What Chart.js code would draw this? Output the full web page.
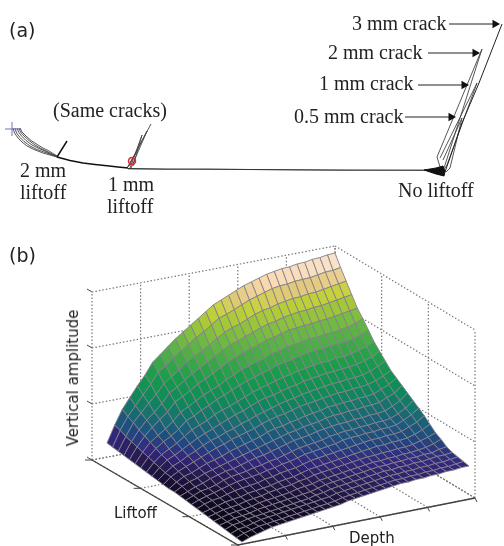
<!DOCTYPE html>
<html>
<head>
<meta charset="utf-8">
<title>Crack signals and liftoff</title>
<script src="https://cdn.jsdelivr.net/npm/chart.js@4"></script>
<style>
    html, body { margin: 0; padding: 0; background: #fff; }
    #page { position: relative; width: 504px; height: 546px; overflow: hidden; filter: blur(0.4px); }
    canvas { position: absolute; left: 0; }
    #chart-a { top: 0; }
    #chart-b { top: 240px; }
    .note { position: absolute; font-family: "Liberation Serif", serif; font-size: 20px; line-height: 22px; color: #222; white-space: nowrap; }
    .panel { position: absolute; font-family: "DejaVu Sans", sans-serif; font-size: 19px; line-height: 22px; color: #222; }
    .axis-name { position: absolute; font-family: "DejaVu Sans", sans-serif; font-size: 15px; line-height: 16px; color: #222; white-space: nowrap; }
</style>
</head>
<body>
<div id="page">
    <canvas id="chart-a" width="504" height="240"></canvas>
    <canvas id="chart-b" width="504" height="306"></canvas>
    <div class="panel" style="left:9px;top:19px">(a)</div>
    <div class="panel" style="left:9px;top:244px">(b)</div>
    <div class="note" style="left:53px;top:99px">(Same cracks)</div>
    <div class="note" style="left:20px;top:159px">2 mm</div>
    <div class="note" style="left:20px;top:181px">liftoff</div>
    <div class="note" style="left:108px;top:173px">1 mm</div>
    <div class="note" style="left:107px;top:195px">liftoff</div>
    <div class="note" style="left:398px;top:179px">No liftoff</div>
    <div class="note" style="left:352px;top:12px">3 mm crack</div>
    <div class="note" style="left:328px;top:41px">2 mm crack</div>
    <div class="note" style="left:319px;top:72px">1 mm crack</div>
    <div class="note" style="left:294px;top:105px">0.5 mm crack</div>
    <div class="axis-name" style="left:73px;top:378px;transform:translate(-50%,-50%) rotate(-90deg)">Vertical amplitude</div>
    <div class="axis-name" style="left:114px;top:505px">Liftoff</div>
    <div class="axis-name" style="left:349px;top:530px">Depth</div>
</div>

<script>
// Panel (a): impedance plane traces
const fanTraces = [
    [[13, 112], [14.5, 107], [18, 102], [22, 98], [27, 94], [34, 90.5], [43, 87], [50, 85], [57, 83]],
    [[15, 112], [16.5, 107], [20, 102.5], [24, 98.5], [30, 94], [37, 90.5], [44, 88], [51, 85.5], [57, 83]],
    [[17, 112], [18.5, 108], [22, 103.5], [26, 99.5], [32, 95], [38, 92], [45, 89], [51, 86], [57, 83.5]],
    [[19, 112], [20.5, 108], [24, 104], [29, 99.5], [35, 95], [41, 91.5], [47, 88.5], [52, 86], [57, 84]],
    [[20, 112], [22, 108], [26, 104], [31, 99.5], [38, 95], [43, 92], [49, 89], [53, 86.5], [57, 84]]
];
const liftoffCurve = [[57, 83], [70, 79.5], [83, 77], [95, 75.5], [107, 74.2], [118, 73], [128, 72]];
const baselineDark = [[128, 71.5], [167, 71], [250, 70.5], [352, 70], [425, 69.7], [440, 68]];
const baselineGrey = [[128, 71], [165, 70.5], [207, 71], [290, 70], [340, 69.5], [430, 70]];
const spur2mm = [[57, 83], [67, 99]];
const spur1mm = [
    [[128, 73], [151, 116]],
    [[129, 74], [147, 109], [131, 72]],
    [[130, 72], [142, 105], [133, 74]],
    [[127, 72], [137, 89]]
];
const crack3mm = [[445, 68], [462, 117], [479, 157], [502, 216]];
const crack2mm = [[441, 70], [437, 83], [482, 191], [445, 75], [442, 68]];
const crack1mm = [[440, 82], [477, 157], [447, 75], [443, 69]];
const crack05mm = [[443, 80], [462, 122], [450, 72], [446, 68]];
const noLiftoffBlob = [[424, 70], [436, 72], [443, 74], [445, 68], [444, 64], [436, 66], [424, 70]];
const samePoint = [[132, 79]];
const startPoint = [[12, 111]];
const arrows = [
    [[449, 216], [495, 216]],
    [[428, 187], [475, 187]],
    [[418, 155], [464, 155]],
    [[405, 123], [451, 123]]
];

// Panel (b): surface height for each liftoff row (front to back) and depth column (left to right)
const surfaceHeights = [
    [2,5,7,9,11,12,13,14,15,16,17,18,19,20,22,23,24,25,26,27,28,29,29,30,30,31,31,32,32,33,33],
    [3,6,8,10,11,12,13,14,15,16,17,18,19,20,22,23,24,25,26,27,28,29,29,30,30,31,31,32,32,33,34],
    [4,7,8,10,12,13,14,15,16,17,18,19,20,21,23,24,25,26,27,28,29,30,30,31,31,32,32,33,33,34,35],
    [5,8,9,11,12,13,14,15,16,17,18,19,21,22,24,25,26,27,28,29,30,31,31,32,32,33,33,34,35,35,36],
    [6,8,10,11,12,14,15,16,17,18,19,20,21,23,25,26,27,28,29,30,31,32,32,33,33,34,34,35,35,37,38],
    [7,9,11,12,13,14,16,17,18,19,20,22,23,24,26,27,28,29,30,31,32,33,33,34,34,35,35,36,37,39,42],
    [8,10,12,13,14,16,17,18,20,21,22,23,25,26,28,29,30,31,32,33,34,35,35,36,36,37,37,38,40,42,45],
    [9,11,13,15,16,17,19,20,21,22,24,25,26,28,30,31,32,33,34,35,36,37,38,39,39,40,40,41,43,46,50],
    [10,13,15,16,18,20,21,22,23,25,26,28,29,30,32,34,35,36,37,38,39,40,41,42,42,43,43,44,47,50,55],
    [11,14,16,18,20,22,24,25,26,27,29,30,32,33,35,37,38,39,40,41,43,44,44,45,45,46,46,47,50,54,59],
    [12,15,18,19,21,24,26,27,28,30,31,33,34,36,38,40,41,42,43,45,46,47,47,48,48,49,49,50,53,57,63],
    [13,16,19,21,24,26,28,29,31,33,35,36,38,40,42,44,45,46,48,49,50,51,51,52,52,53,53,54,57,61,67],
    [14,18,21,23,26,28,30,32,34,36,38,40,42,44,46,48,49,51,52,53,55,56,56,57,57,58,58,59,62,65,71],
    [14,19,23,25,28,31,33,35,38,40,42,44,46,49,51,52,54,55,57,58,59,61,61,62,62,63,63,64,67,70,75],
    [15,21,25,28,31,34,37,40,42,45,47,49,51,54,56,58,59,61,63,64,65,66,67,68,68,69,69,70,72,75,79],
    [16,22,27,30,34,37,41,44,46,49,51,54,56,59,61,63,65,67,68,70,71,72,73,74,74,75,75,76,78,81,85],
    [17,24,30,33,37,41,45,48,51,54,57,60,62,65,68,70,71,73,75,76,78,79,80,81,81,82,82,83,85,87,91],
    [18,26,32,36,40,45,50,53,56,60,63,65,68,71,74,76,78,80,82,83,85,86,87,88,88,89,89,90,92,94,97],
    [19,28,35,40,44,49,56,59,63,66,70,73,76,79,82,84,86,88,91,92,93,95,96,97,97,98,98,99,100,102,105],
    [20,30,38,43,48,54,61,65,69,73,76,79,83,86,90,92,94,96,99,100,102,103,104,105,105,106,106,107,108,110,113],
    [21,32,41,48,54,60,68,72,76,81,84,88,92,96,99,102,104,106,109,110,112,114,114,115,115,116,116,117,118,119,120],
    [22,34,44,52,58,65,74,78,83,88,92,96,100,104,108,110,113,115,118,120,121,123,124,125,125,126,126,127,128,129,130],
    [23,36,48,56,64,71,80,85,90,96,100,104,108,113,117,120,122,125,128,130,131,133,134,135,135,136,136,137,138,139,140],
    [24,39,51,60,69,78,88,93,99,104,109,114,118,123,128,130,133,136,139,141,143,145,146,146,147,147,147,148,149,149,150],
    [25,41,55,65,75,84,95,101,107,113,118,123,128,133,138,141,144,147,150,152,154,156,157,158,158,159,159,160,160,161,161]
];
const heightStops = [0, 15, 25, 33, 42, 50, 58, 68, 84, 96, 110, 125, 133, 141, 150, 161];
const heightColors = ['#050208', '#130b28', '#271b52', '#33287e', '#1f4c80', '#1b6078', '#16746c', '#0f8a58', '#179b4a', '#3fa848', '#6ab844', '#a8c938', '#c6d23a', '#e2c97c', '#fad9b0', '#f6ebe4'];
const depthTicks = [0, 0.2, 0.4, 0.6, 0.8, 1];
const liftoffTicks = [0, 1 / 3, 2 / 3, 1];
const amplitudeTicks = [0, 1 / 3, 2 / 3, 1];

// Corners of the viewing box and of the surface footprint on the picture plane
const boxFloor = { front: [238, 545], right: [475, 498], left: [92, 460], back: [335, 414] };
const boxHeight = 168;
const surfaceFloor = { front: [242, 544], right: [469, 499], left: [107, 468], back: [335, 414] };

function floorPoint(corners, d, l) {
    const mix = k => (1 - d) * (1 - l) * corners.front[k] + d * (1 - l) * corners.right[k]
        + (1 - d) * l * corners.left[k] + d * l * corners.back[k];
    return { x: mix(0), y: mix(1) };
}

function boxPoint(d, l, z) {
    const p = floorPoint(boxFloor, d, l);
    return { x: p.x, y: p.y - z * boxHeight };
}

function surfacePoint(col, row) {
    const cols = surfaceHeights[0].length - 1;
    const rows = surfaceHeights.length - 1;
    const p = floorPoint(surfaceFloor, col / cols, row / rows);
    return { x: p.x, y: p.y - surfaceHeights[row][col] };
}

function hexToRgb(hex) {
    return [1, 3, 5].map(i => parseInt(hex.substr(i, 2), 16));
}

// Colour lookup along the height colormap
function heightColor(h) {
    let k = 0;
    while (k < heightStops.length - 2 && h > heightStops[k + 1]) k++;
    const t = Math.min(1, Math.max(0, (h - heightStops[k]) / (heightStops[k + 1] - heightStops[k])));
    const a = hexToRgb(heightColors[k]);
    const b = hexToRgb(heightColors[k + 1]);
    const c = a.map((v, i) => Math.round(v + (b[i] - v) * t));
    return `rgb(${c[0]},${c[1]},${c[2]})`;
}

function toPoints(pairs) {
    return pairs.map(p => ({ x: p[0], y: p[1] }));
}

function traceLine(pairs, color, width) {
    return { data: toPoints(pairs), showLine: true, borderColor: color, borderWidth: width, pointRadius: 0, tension: 0 };
}

function hiddenAxes(xMin, xMax, yMin, yMax, reverseY) {
    return {
        x: { type: 'linear', display: false, min: xMin, max: xMax },
        y: { type: 'linear', display: false, min: yMin, max: yMax, reverse: reverseY }
    };
}

function baseOptions(scales) {
    return {
        responsive: false,
        animation: false,
        events: [],
        layout: { padding: 0, autoPadding: false },
        plugins: { legend: { display: false }, tooltip: { enabled: false } },
        scales: scales
    };
}

// Render panel (a)
function renderTraces() {
    const datasets = [];

    datasets.push({ data: toPoints(samePoint), pointStyle: 'circle', pointRadius: 3.5, pointBorderColor: '#d8283a', pointBackgroundColor: 'rgba(216,40,58,0.15)', pointBorderWidth: 1.5 });
    datasets.push({ data: toPoints(startPoint), pointStyle: 'cross', pointRadius: 7, pointBorderColor: '#6c70c0', pointBorderWidth: 1 });

    arrows.forEach(a => {
        datasets.push({
            data: toPoints(a), showLine: true, borderColor: '#222', borderWidth: 1,
            pointStyle: 'triangle', pointRadius: [0, 5], pointRotation: 90,
            pointBackgroundColor: '#111', pointBorderColor: '#111', pointBorderWidth: 0
        });
    });

    datasets.push({ ...traceLine(noLiftoffBlob, '#111', 1), fill: 'shape', backgroundColor: '#111' });
    fanTraces.forEach(t => datasets.push(traceLine(t, '#444', 0.9)));
    datasets.push(traceLine(liftoffCurve, '#111', 1.6));
    datasets.push(traceLine(baselineDark, '#333', 1));
    datasets.push(traceLine(baselineGrey, '#888', 1));
    datasets.push(traceLine(spur2mm, '#111', 1.5));
    spur1mm.forEach(t => datasets.push(traceLine(t, '#444', 0.9)));
    datasets.push(traceLine(crack3mm, '#222', 1));
    datasets.push(traceLine(crack2mm, '#444', 0.9));
    datasets.push(traceLine(crack1mm, '#444', 0.9));
    datasets.push(traceLine(crack05mm, '#444', 0.9));

    new Chart(document.getElementById('chart-a').getContext('2d'), {
        type: 'scatter',
        data: { datasets: datasets },
        options: baseOptions(hiddenAxes(0, 504, 0, 240, false))
    });
}

// Render panel (b)
function renderSurface() {
    const datasets = [];
    const rows = surfaceHeights.length - 1;
    const cols = surfaceHeights[0].length - 1;

    // Chart.js paints the first dataset last, so the nearest cells go first
    for (let r = 0; r < rows; r++) {
        for (let c = 0; c < cols; c++) {
            const h = (surfaceHeights[r][c] + surfaceHeights[r][c + 1] + surfaceHeights[r + 1][c] + surfaceHeights[r + 1][c + 1]) / 4;
            const a = surfacePoint(c, r);
            datasets.push({
                data: [a, surfacePoint(c + 1, r), surfacePoint(c + 1, r + 1), surfacePoint(c, r + 1), a],
                showLine: true,
                fill: 'shape',
                backgroundColor: heightColor(h),
                borderColor: '#85808a',
                borderWidth: 0.9,
                pointRadius: 0,
                tension: 0
            });
        }
    }

    // Solid front axes and tick marks
    const axisLine = (pts, width) => ({ data: pts, showLine: true, borderColor: '#444', borderWidth: width, pointRadius: 0, tension: 0 });
    datasets.push(axisLine([boxPoint(0, 1, 0), boxPoint(0, 0, 0), boxPoint(1, 0, 0)], 1.3));
    depthTicks.forEach(d => {
        const p = boxPoint(d, 0, 0);
        datasets.push(axisLine([p, { x: p.x + 2, y: p.y + 4 }], 1));
    });
    liftoffTicks.forEach(l => {
        const p = boxPoint(0, l, 0);
        datasets.push(axisLine([p, { x: p.x - 7, y: p.y }], 1));
    });
    amplitudeTicks.forEach(z => {
        const p = boxPoint(0, 1, z);
        datasets.push(axisLine([p, { x: p.x - 5, y: p.y - 3 }], 1));
    });

    // Dotted box grid behind the surface
    const dotted = (a, b) => ({ data: [a, b], showLine: true, borderColor: '#777', borderWidth: 1.2, borderDash: [1.5, 2], pointRadius: 0, tension: 0 });
    amplitudeTicks.forEach(z => {
        datasets.push(dotted(boxPoint(0, 1, z), boxPoint(1, 1, z)));
        datasets.push(dotted(boxPoint(1, 1, z), boxPoint(1, 0, z)));
    });
    depthTicks.forEach(d => {
        datasets.push(dotted(boxPoint(d, 1, 0), boxPoint(d, 1, 1)));
        datasets.push(dotted(boxPoint(d, 0, 0), boxPoint(d, 1, 0)));
    });
    liftoffTicks.forEach(l => {
        datasets.push(dotted(boxPoint(1, l, 0), boxPoint(1, l, 1)));
        datasets.push(dotted(boxPoint(0, l, 0), boxPoint(1, l, 0)));
    });

    new Chart(document.getElementById('chart-b').getContext('2d'), {
        type: 'scatter',
        data: { datasets: datasets },
        options: baseOptions(hiddenAxes(0, 504, 240, 546, true))
    });
}

document.addEventListener('DOMContentLoaded', function() {
    renderTraces();
    renderSurface();
});
</script>
</body>
</html>
